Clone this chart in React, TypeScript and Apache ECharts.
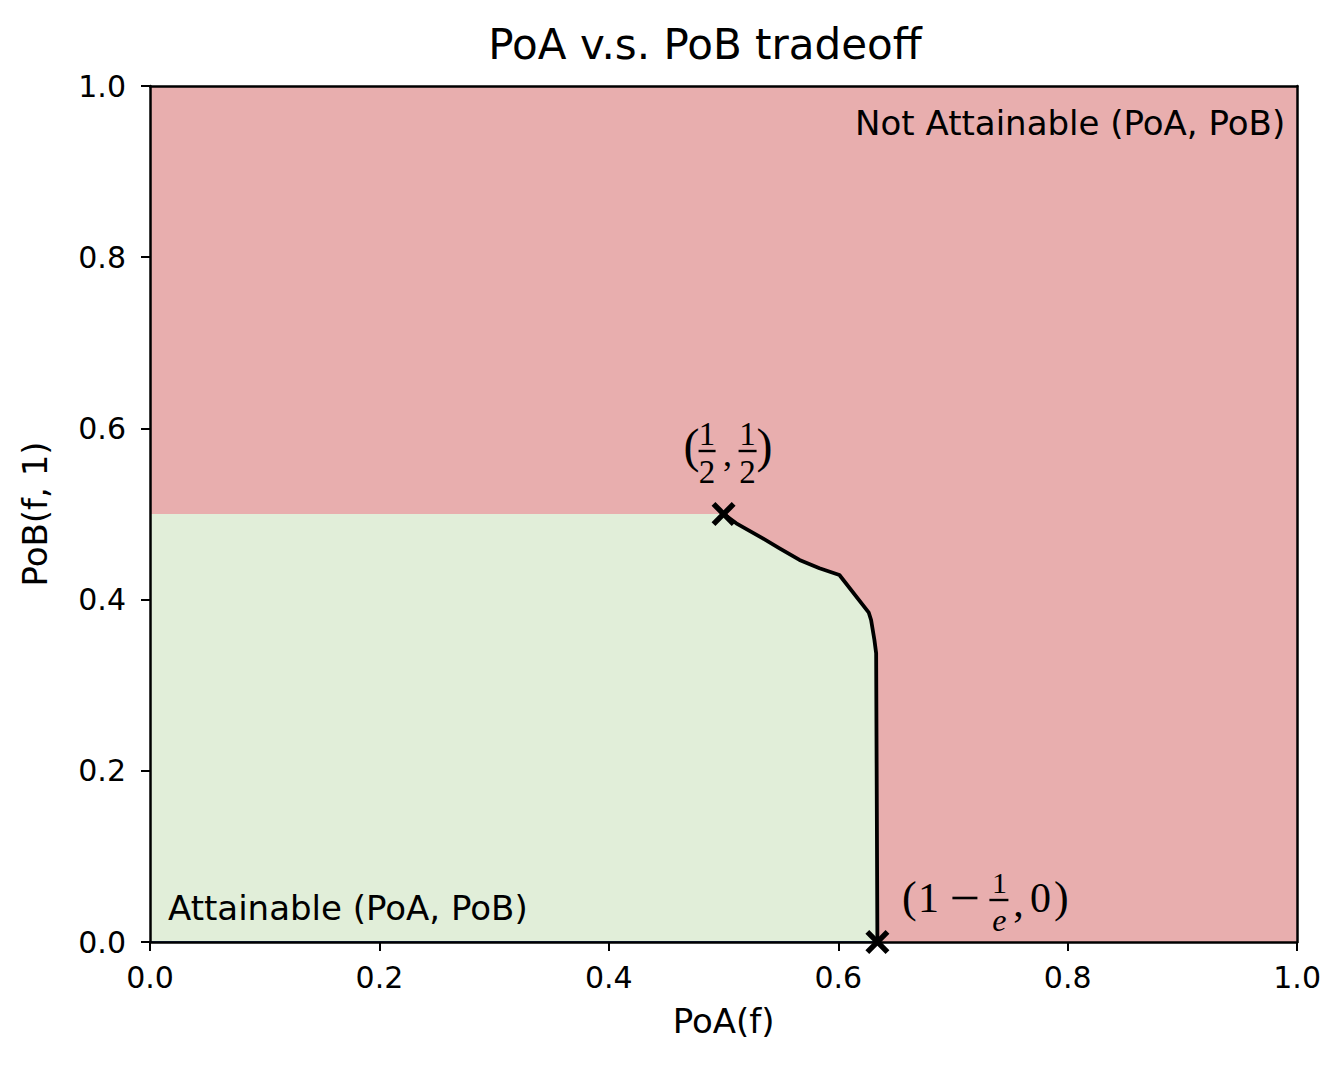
import React, { useEffect, useRef } from "react";
import * as echarts from "echarts";

const axisTicks = [0, 0.2, 0.4, 0.6, 0.8, 1.0];
const frontierX = [0.5, 0.5111, 0.5342, 0.5488, 0.5662, 0.5836, 0.601, 0.6266, 0.6286, 0.6315, 0.633, 0.6341];
const frontierY = [0.5, 0.4891, 0.4716, 0.4599, 0.4463, 0.4366, 0.4287, 0.3847, 0.3762, 0.3528, 0.3372, 0];
const attainableX = [0, ...frontierX];
const attainableY = [0.5, ...frontierY];
const baselineX = [0, 0.6341];
const baselineY = [0, 0];
const markerX = [0.5, 0.6341];
const markerY = [0.5, 0];
const titleText = "PoA v.s. PoB tradeoff";
const xName = "PoA(f)";
const yName = "PoB(f, 1)";
const notAttainable = "Not Attainable (PoA, PoB)";
const attainable = "Attainable (PoA, PoB)";

const RED = "#e8aeae";
const GREEN = "#e1eed9";
const SANS = "'DejaVu Sans', sans-serif";
const TICKFONT = "'DejaVu Sans', sans-serif";
const SERIF = "'Liberation Serif', 'DejaVu Serif', serif";

const pairs = (xs: number[], ys: number[]) => xs.map((x, i) => [x, ys[i]]);

const X_PATH =
  "path://M0,1.6 L1.6,0 L5,3.4 L8.4,0 L10,1.6 L6.6,5 L10,8.4 L8.4,10 L5,6.6 L1.6,10 L0,8.4 L3.4,5 Z";

export default function App() {
  const ref = useRef<HTMLDivElement>(null);
  useEffect(() => {
    if (!ref.current) return;
    const chart = echarts.init(ref.current, undefined, { renderer: "svg" });
    const grid = { left: 150, top: 86, width: 1148, height: 856 };
    const axisCommon = {
      type: "value" as const,
      min: axisTicks[0],
      max: axisTicks[axisTicks.length - 1],
      interval: 0.2,
      z: 6,
      splitLine: { show: false },
      axisLine: { show: true, onZero: false, lineStyle: { color: "#000", width: 2.5 } },
    };
    const tickLabel = {
      fontFamily: TICKFONT,
      fontSize: 30,
      color: "#000",
      formatter: (v: number) => v.toFixed(1),
    };
    chart.setOption({
      animation: false,
      backgroundColor: "#fff",
      grid: { ...grid, show: true, backgroundColor: RED, borderWidth: 0 },
      xAxis: [
        {
          ...axisCommon,
          position: "bottom",
          name: xName,
          nameLocation: "middle",
          nameGap: 62,
          nameTextStyle: { fontFamily: SANS, fontSize: 34, color: "#000" },
          axisTick: { show: true, inside: false, length: 9, lineStyle: { color: "#000", width: 2 } },
          axisLabel: { ...tickLabel, margin: 20 },
        },
        {
          ...axisCommon,
          position: "top",
          axisTick: { show: false },
          axisLabel: { show: false },
        },
      ],
      yAxis: [
        {
          ...axisCommon,
          position: "left",
          name: yName,
          nameLocation: "middle",
          nameGap: 98,
          nameTextStyle: { fontFamily: SANS, fontSize: 34, color: "#000" },
          axisTick: { show: true, inside: false, length: 9, lineStyle: { color: "#000", width: 2 } },
          axisLabel: { ...tickLabel, margin: 24 },
        },
        {
          ...axisCommon,
          position: "right",
          axisTick: { show: false },
          axisLabel: { show: false },
        },
      ],
      series: [
        {
          type: "line",
          data: pairs(attainableX, attainableY),
          symbol: "none",
          lineStyle: { width: 0, opacity: 0 },
          areaStyle: { color: GREEN, opacity: 1, origin: "start" },
          z: 1,
        },
        {
          type: "line",
          data: pairs(baselineX, baselineY),
          symbol: "none",
          lineStyle: { width: 2, color: "#284a8c" },
          z: 2,
        },
        {
          type: "line",
          data: pairs(frontierX, frontierY),
          symbol: "none",
          lineStyle: { width: 3.8, color: "#000", join: "round" },
          z: 3,
        },
        {
          type: "scatter",
          data: pairs(markerX, markerY),
          symbol: X_PATH,
          symbolSize: 24,
          itemStyle: { color: "#000", opacity: 1 },
          z: 8,
        },
      ],
    });

    const p = chart.convertToPixel({ gridIndex: 0 }, [markerX[0], markerY[0]]) as number[];
    const q = chart.convertToPixel({ gridIndex: 0 }, [markerX[1], markerY[1]]) as number[];
    const tl = chart.convertToPixel({ gridIndex: 0 }, [1, 1]) as number[];
    const bl = chart.convertToPixel({ gridIndex: 0 }, [0, 0]) as number[];

    const t = (
      x: number,
      y: number,
      text: string,
      size: number,
      font = SERIF,
      align = "center",
      fontStyle = "normal"
    ) => ({
      type: "text",
      x,
      y,
      z: 10,
      style: { text, fontSize: size, fontFamily: font, fontStyle, fill: "#000", align, verticalAlign: "middle" },
    });
    const bar = (x1: number, x2: number, y: number, w = 2) => ({
      type: "line",
      z: 10,
      shape: { x1, y1: y, x2, y2: y },
      style: { stroke: "#000", lineWidth: w },
    });

    const half = [
      t(p[0] - 32, p[1] - 69, "(", 48),
      t(p[0] - 16.5, p[1] - 80, "1", 33),
      bar(p[0] - 25, p[0] - 8, p[1] - 63, 2.4),
      t(p[0] - 16.5, p[1] - 42, "2", 33),
      t(p[0] + 4, p[1] - 60, ",", 36),
      t(p[0] + 24, p[1] - 80, "1", 33),
      bar(p[0] + 15, p[0] + 33, p[1] - 63, 2.4),
      t(p[0] + 24, p[1] - 42, "2", 33),
      t(p[0] + 41, p[1] - 69, ")", 48),
    ];
    const oneMinus = [
      t(q[0] + 32, q[1] - 45, "(", 44),
      t(q[0] + 51, q[1] - 44, "1", 42),
      bar(q[0] + 75, q[0] + 100, q[1] - 44, 2.6),
      t(q[0] + 122, q[1] - 60, "1", 30),
      bar(q[0] + 112, q[0] + 131, q[1] - 42, 2.4),
      t(q[0] + 122, q[1] - 22, "e", 32, SERIF, "center", "italic"),
      t(q[0] + 141, q[1] - 40, ",", 42),
      t(q[0] + 163, q[1] - 44, "0", 42),
      t(q[0] + 184, q[1] - 45, ")", 44),
    ];

    chart.setOption({
      graphic: [
        {
          type: "text",
          x: 705,
          y: 44,
          style: {
            text: titleText,
            fontSize: 42,
            fontFamily: SANS,
            fill: "#000",
            align: "center",
            verticalAlign: "middle",
          },
        },
        t(tl[0] - 12, tl[1] + 37, notAttainable, 34, SANS, "right"),
        t(bl[0] + 18, bl[1] - 34, attainable, 34, SANS, "left"),
        ...half,
        ...oneMinus,
      ],
    });
    return () => chart.dispose();
  }, []);
  return <div ref={ref} style={{ position: "absolute", left: 0, top: 0, width: 1324, height: 1070 }} />;
}
